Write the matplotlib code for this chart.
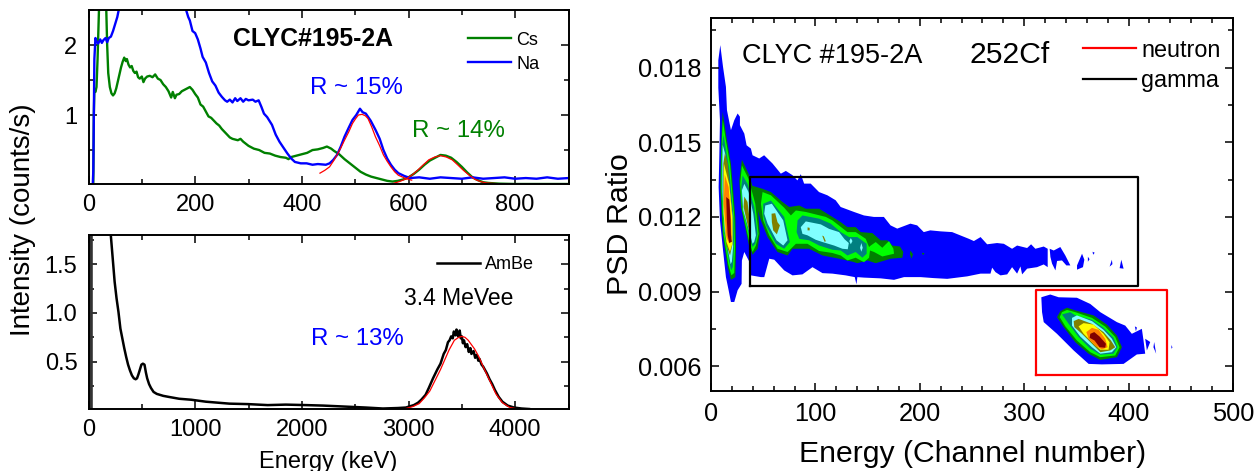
# CLYC spectra (left) and PSD map (right)
import numpy as np
import matplotlib
matplotlib.use('Agg')
import matplotlib.pyplot as plt
from matplotlib.ticker import MultipleLocator, FormatStrFormatter

plt.rcParams['font.family'] = ['Liberation Sans', 'DejaVu Sans']

# top left spectra, x in keV, y in counts/s
cs_x = [9,10,11,13,15,17,20,33,35,37,40,43,46,49,52,55,58,61,64,67,70,72,75,78,81,84,87,90,93,96,100,103,106,110,115,120,125,130,135,140,145,150,155,158,162,165,170,175,180,185,190,195,200,205,210,215,220,225,230,235,240,245,250,255,260,265,270,280,285,290,300,310,320,330,340,350,360,370,375,380,390,400,410,420,430,440,447,455,460,470,480,490,500,510,520,530,540,550,560,570,580,590,600,610,620,630,640,650,660,670,680,690,700,710,720,730,740,750,770,800,900]
cs_y = [0.02,1.0,1.35,1.33,1.4,1.8,2.6,2.6,2.0,1.6,1.4,1.31,1.28,1.31,1.38,1.48,1.58,1.68,1.76,1.82,1.77,1.80,1.72,1.68,1.70,1.63,1.60,1.62,1.54,1.52,1.55,1.47,1.52,1.55,1.56,1.54,1.58,1.52,1.50,1.44,1.40,1.34,1.25,1.33,1.24,1.29,1.30,1.34,1.36,1.38,1.40,1.36,1.30,1.25,1.15,1.12,1.05,0.98,0.96,0.92,0.88,0.85,0.80,0.76,0.72,0.68,0.66,0.64,0.66,0.62,0.56,0.52,0.50,0.46,0.45,0.42,0.40,0.39,0.37,0.40,0.42,0.44,0.46,0.50,0.51,0.53,0.55,0.52,0.49,0.44,0.37,0.31,0.25,0.19,0.15,0.12,0.10,0.08,0.06,0.05,0.06,0.08,0.11,0.16,0.22,0.29,0.35,0.39,0.43,0.42,0.39,0.33,0.26,0.18,0.11,0.07,0.04,0.03,0.02,0.015,0.015]
na_x = [8,9,10,11,13,15,18,22,25,28,32,35,38,42,46,50,54,58,120,183,187,190,195,200,205,210,214,220,226,232,238,244,250,256,260,265,270,275,279,285,290,295,300,308,313,319,324,329,335,344,351,358,365,373,380,387,398,409,420,430,445,452,459,466,473,480,488,495,502,509,514,520,529,538,546,553,560,567,574,581,592,603,620,640,660,680,700,720,740,760,780,800,820,840,860,880,900]
na_y = [0.01,0.2,1.0,1.8,2.1,2.05,2.02,2.08,2.03,2.07,2.1,2.04,2.1,2.12,2.2,2.3,2.4,2.55,3.5,2.5,2.4,2.35,2.2,2.17,2.08,1.95,1.83,1.75,1.6,1.48,1.42,1.32,1.26,1.21,1.19,1.22,1.18,1.24,1.20,1.24,1.19,1.23,1.21,1.22,1.19,1.21,1.12,1.02,0.97,0.86,0.72,0.62,0.54,0.45,0.38,0.33,0.31,0.31,0.29,0.30,0.29,0.31,0.36,0.43,0.55,0.69,0.82,0.93,1.0,1.09,1.04,1.02,0.92,0.79,0.66,0.5,0.38,0.29,0.22,0.17,0.13,0.10,0.11,0.09,0.11,0.10,0.09,0.11,0.09,0.10,0.11,0.09,0.10,0.09,0.11,0.09,0.10]
na_fit_x = [434,443,452,459,466,473,480,488,495,501,506,513,519,524,531,538,546,553,560,567,574,581,596,606]
na_fit_y = [0.17,0.21,0.26,0.34,0.43,0.53,0.64,0.76,0.88,0.95,1.0,1.01,0.99,0.95,0.83,0.69,0.56,0.43,0.34,0.26,0.19,0.14,0.09,0.07]
cs_fit_x = [570,583,596,606,617,628,638,649,660,671,682,692,703,714,725,735,746,768]
cs_fit_y = [0.02,0.05,0.09,0.14,0.21,0.29,0.36,0.40,0.42,0.40,0.36,0.29,0.21,0.14,0.08,0.05,0.03,0.02]

# bottom left AmBe spectrum
ambe_edge_x = [20, 20]
ambe_edge_y = [0.02, 3.0]
ambe_x = [20,150,209,227,245,263,281,299,317,335,353,371,389,407,425,442,455,468,482,496,510,525,538,550,568,586,610,640,700,748,850,964,1100,1320,1500,1680,1850,2040,2200,2400,2600,2760,2900,2975,3050,3090,3120,3160,3190,3230,3270,3300,3330,3350,3370,3385,3400,3415,3425,3440,3450,3465,3480,3490,3500,3510,3520,3535,3550,3565,3580,3590,3610,3625,3640,3655,3665,3685,3700,3715,3735,3760,3785,3810,3845,3880,3930,3990,4060,4130]
ambe_y = [3.0,3.0,1.8,1.56,1.32,1.15,1.01,0.84,0.74,0.64,0.55,0.47,0.41,0.36,0.33,0.32,0.33,0.37,0.42,0.47,0.48,0.47,0.39,0.33,0.27,0.23,0.19,0.17,0.15,0.14,0.12,0.11,0.09,0.07,0.065,0.055,0.06,0.055,0.05,0.04,0.03,0.02,0.025,0.03,0.055,0.08,0.11,0.16,0.23,0.33,0.42,0.48,0.58,0.62,0.70,0.72,0.76,0.74,0.81,0.77,0.83,0.76,0.82,0.74,0.76,0.69,0.72,0.65,0.68,0.60,0.64,0.58,0.61,0.54,0.57,0.51,0.53,0.47,0.45,0.42,0.38,0.32,0.27,0.21,0.14,0.09,0.05,0.03,0.02,0.015]
ambe_fit_x = [2975,3040,3100,3150,3200,3250,3300,3340,3380,3430,3470,3500,3530,3560,3620,3660,3700,3760,3820,3880,3950,4000]
ambe_fit_y = [0.02,0.04,0.07,0.13,0.20,0.31,0.42,0.52,0.62,0.72,0.75,0.76,0.75,0.72,0.63,0.55,0.45,0.31,0.17,0.08,0.03,0.02]

# PSD map outlines, channel number and PSD ratio x 1000
band_blue = [(8.9,18.91),(11.5,18.04),(14.3,17.23),(15.3,16.29),(19.1,15.49),(22.3,15.89),(25.5,16.16),(27.7,16.03),(27.7,15.69),(31.9,15.35),(34.1,14.88),(38.2,14.75),(39.8,14.48),(46.2,14.35),(50.9,14.48),(58.9,14.15),(66.9,13.74),(71.7,13.85),(78,13.68),(82.8,13.47),(86,13.72),(89.2,13.34),(95.5,13.34),(103.5,13.0),(111.5,12.87),(119.4,12.67),(124.2,12.4),(137,12.2),(146.5,12.06),(156,12.0),(165.6,12.0),(172,11.66),(178.4,11.53),(191,11.73),(197.5,11.66),(203.8,11.39),(210,11.46),(219.9,11.42),(231,11.39),(247,11.12),(251.8,11.03),(258.2,11.19),(264.5,10.9),(274,10.95),(280.5,10.92),(288.4,10.72),(293.2,10.85),(302.8,10.75),(306.6,10.9),(310.7,10.72),(318.7,10.81),(322.5,10.72),(322.5,9.98),(318.7,10.09),(312.3,9.98),(302.8,9.92),(298,9.69),(296.4,10.01),(293.2,9.72),(288.4,9.98),(283.7,9.69),(277.3,9.65),(272.5,9.78),(269.3,9.96),(267.7,9.72),(258.2,9.72),(245.4,9.61),(226.3,9.51),(213.5,9.54),(200.8,9.58),(184.9,9.58),(175.3,9.47),(162.5,9.53),(146.6,9.56),(140.2,9.58),(139.3,9.29),(137.7,9.58),(129,9.65),(116.3,9.72),(106.8,9.74),(97.2,9.98),(87.6,9.69),(78.1,9.65),(70.1,9.85),(60.6,10.28),(55.8,10.32),(51,9.58),(47.8,9.58),(38.2,9.65),(36.7,10.2),(31.9,10.59),(29.6,10.25),(29.3,9.31),(25.5,9.05),(22.3,8.58),(19.1,8.58),(16.9,9.05),(14.3,9.58),(11.2,10.79),(8.6,11.86),(7.3,13.2),(8,14.54),(8.6,15.88),(7,17.2),(7,18.3)]
blue_bits = [
    [(324.4,10.72),(328.3,10.65),(334.6,10.79),(339.4,10.45),(344.2,10.05),(340.4,10.05),(336.2,10.25),(331.5,10.23),(329.9,9.85),(326.7,10.12),(325.1,10.39)],
    [(355.4,10.52),(357.6,10.28),(356.3,9.98),(350.6,9.88),(350.6,10.05)],
    [(361,10.4),(362.6,10.3),(361,10.2)],
    [(365.5,10.6),(367.5,10.56),(366,10.48)],
    [(384,10.28),(384.5,10.1),(381.8,10)],
    [(393,10.28),(395.2,9.92),(391.4,9.94)],
    [(415.9,7.1),(420.7,6.97),(417.5,6.63)],
    [(424.5,6.97),(426.4,6.5),(423.8,6.76)],
    [(441,6.85),(442,6.75),(441,6.7)],
    [(406,7.6),(408,7.55),(407,7.4)],
]
lobe1_green = [(11.2,16.23),(14.3,15.34),(19.1,14.14),(23.3,12),(24,10.79),(23.3,9.58),(19.1,9.47),(16,9.98),(11.2,11.32),(8.9,13.2),(9.9,15.08)]
lobe1_lime = [(11.3,15.9),(13.8,15.2),(18.3,14.1),(22.3,12),(23,10.8),(22.3,9.75),(19.5,9.65),(16.5,10.1),(12,11.3),(9.7,13.2),(10.3,15)]
lobe1_teal = [(12,15.3),(17.5,13.9),(21.5,12),(22,10.8),(21,10),(19.3,9.85),(17,10.3),(12.7,11.4),(10.3,13.2),(10.8,14.9)]
lobe1_cyan = [(11.2,14.9),(13.8,14.5),(16.5,13.6),(20.8,12),(21.2,10.8),(20,10.2),(18.8,10.1),(17,10.5),(13.2,11.4),(11,13),(10.9,14.2)]
lobe1_olive = [(13.4,14.58),(16,14.14),(20.7,12),(20.7,10.92),(18.2,10.45),(14.3,10.92),(11.8,12.53),(11.8,14.14)]
lobe1_yellow = [(12.4,14.14),(17.5,13.3),(20.4,12),(20.4,10.92),(18.2,10.6),(14.8,11),(12,12.13)]
lobe1_orange = [(13.2,13.7),(16.9,13.2),(19.3,11.86),(19.8,11.19),(17.5,10.92),(14.8,11.19),(12.2,12.53)]
lobe1_darkred = [(14.6,12.8),(17.5,12.7),(18.8,11.86),(19.1,11.3),(20,11),(17.5,10.95),(16,11.26),(15.2,11.86)]
lobe2_green = [(29.6,14.3),(36.7,13.67),(44.6,12.53),(46.8,11.32),(44.6,10.72),(39.8,10.48),(36,10.92),(28.7,12.4),(27.1,13.47)]
lobe2_lime = [(29.6,14.07),(36,13.53),(42.4,12.53),(45.6,11.32),(43,10.85),(39.8,10.59),(36.6,11),(29.6,12.33),(28,13.33)]
lobe2_teal = [(30.3,13.67),(35,13.33),(41.4,12.4),(44.6,11.32),(42.4,10.92),(39.8,10.79),(36.7,11.26),(30.3,12.33),(29,13.2)]
lobe2_cyan = [(31.9,13.33),(36,13),(40.5,12.13),(43,11.26),(41.4,11),(39.8,10.92),(37.3,11.32),(30.9,12.26),(29.6,13.07)]
lobe2_olive = [(31.9,12.82),(35,12.6),(36.7,12),(38.2,11.46),(36.7,11.39),(34.1,11.86),(31.2,12.4)]
band_green = [(38.2,13.27),(49.4,13.13),(57.4,13),(68.5,12.6),(74.9,12.4),(84.5,12.46),(90.8,12.33),(103.6,12.33),(116.3,12),(124.3,11.79),(130.7,11.59),(138.6,11.59),(143.4,11.39),(154.6,11.35),(162.5,11.06),(168.9,11.06),(173.7,10.85),(181,10.81),(184.2,10.59),(183.3,10.36),(172.1,10.32),(157.8,10.14),(149.8,10.25),(140.2,10.14),(135.5,10.2),(122.7,10.32),(106.8,10.45),(94,10.72),(78.1,10.72),(73.3,10.45),(63.7,10.59),(54.2,11.19),(47.8,11.86),(39.8,12.93)]
band_lime = [(49.4,13),(57.4,12.87),(70.1,12.37),(76.5,12.06),(81.3,12.26),(90.8,12.2),(110,12),(116.3,11.86),(124.3,11.6),(130.7,11.39),(138.6,11.39),(148.2,11.12),(151.4,10.79),(153,10.85),(157.8,10.99),(164.1,10.76),(170.5,11.03),(174.7,10.72),(175.3,10.52),(164.1,10.41),(156.2,10.59),(152.3,10.65),(151.4,10.36),(146.6,10.18),(138.6,10.36),(130.7,10.25),(124.3,10.45),(116.3,10.55),(103.6,10.63),(92.4,10.92),(81.3,10.92),(76.5,10.72),(73.3,10.59),(63.7,10.72),(55.8,11.26),(50,11.86),(47.8,12.53)]
blob_a_teal = [(50,12.53),(57.4,12.66),(70.1,12),(75.5,10.99),(70.1,10.72),(62.1,10.92),(52.6,11.66),(50,12.06)]
blob_a_cyan = [(52,12.46),(58.3,12.53),(69.2,11.86),(73.3,11.06),(69.2,10.85),(62.8,11.06),(54.2,11.73),(51,12.13)]
blob_a_olive = [(58,12.13),(61.5,12.15),(63.7,11.79),(66,11.66),(63.1,11.3),(59.6,11.46),(58.3,11.79)]
blob_b_teal = [(82.9,11.86),(87.6,12.06),(103.6,11.93),(114.7,11.73),(124.3,11.39),(132.3,11.19),(140.2,11.19),(149.1,10.92),(149.1,10.52),(145,10.36),(138.6,10.59),(130.7,10.45),(124.3,10.65),(116.3,10.68),(103.6,10.85),(94,11.06),(84.5,11.12),(82,11.39)]
blob_b_cyan = [(86,11.59),(90.8,11.82),(105.2,11.7),(113.1,11.52),(122.7,11.39),(128,11.1),(132,10.95),(131,10.7),(125.9,10.72),(117.9,10.85),(106.8,10.99),(100.4,11.08),(92.4,11.26),(87.6,11.32)]
cyan_spots = [[(133.9,11.15),(135.5,11.03),(133.9,10.9),(132.5,11.03)], [(144,10.95),(145.3,10.76),(144,10.6),(142.8,10.76)]]
olive_spots = [[(92.5,11.58),(94.5,11.56),(94.5,11.46),(92.5,11.46)], [(106.5,11.25),(108,11.22),(110,11.02),(108.8,11.0)]]
green_dots = [[(191,10.65),(193.5,10.5),(192,10.32),(190.5,10.5)], [(202,10.56),(204.5,10.54),(203,10.46)]]

gamma_blue = [(316.4,8.77),(325,8.88),(333,8.77),(350.5,8.75),(363.3,8.5),(372.9,8.17),(388.8,7.77),(396.8,7.63),(403.1,7.3),(412.7,7.5),(414.3,7.03),(415.9,6.5),(407.9,6.47),(395.2,6.09),(374.4,6.07),(361.7,6.09),(347.4,6.63),(331.4,7.3),(318.7,7.77),(317.1,8.17)]
gamma_green = [(334.6,8.21),(341,8.35),(349,8.24),(366.5,8.04),(379.2,7.67),(388.8,7.23),(393.6,6.76),(388.8,6.36),(372.9,6.25),(361.7,6.5),(349,6.96),(337.8,7.57),(331.4,7.97)]
gamma_lime = [(336.2,8.17),(341,8.26),(349,8.17),(364.9,7.94),(377.6,7.59),(387.2,7.17),(391.3,6.76),(387.2,6.43),(372.9,6.36),(363.3,6.56),(350.5,7.03),(339.4,7.6),(334,7.97)]
gamma_teal = [(336.2,8.08),(344.2,8.17),(349,8.04),(364.9,7.86),(376,7.54),(385.6,7.14),(389.4,6.76),(385.6,6.5),(372.9,6.46),(363.3,6.7),(352.1,7.17),(342.6,7.7)]
gamma_cyan = [(345.8,7.94),(350.5,8.04),(364.9,7.81),(376,7.46),(384,7.1),(388.2,6.76),(384,6.56),(372.9,6.5),(364.9,6.76),(353.7,7.19),(345.8,7.63)]
gamma_olive = [(347.4,7.81),(352.1,7.9),(364.9,7.7),(376,7.37),(383.1,7.03),(387.2,6.76),(382.4,6.63),(372.9,6.56),(364.9,6.9),(355.3,7.3),(348,7.57)]
gamma_yellow = [(352.1,7.6),(356.9,7.73),(366.5,7.67),(376,7.3),(381.8,6.96),(380.8,6.66),(372.9,6.66),(364.9,6.96),(356.9,7.3)]
gamma_orange = [(359.5,7.37),(364.9,7.54),(371.3,7.46),(377.6,7.1),(379.9,6.76),(374.4,6.67),(368.1,6.83),(361.7,7.1)]
gamma_darkred = [(363.3,7.3),(367.1,7.37),(372.2,7.19),(378.3,6.9),(377.6,6.74),(372.2,6.76),(367.4,7.03),(362.7,7.14)]

neutron_x = [311, 436.6, 436.6, 311, 311]
neutron_y = [5.63, 5.63, 9.07, 9.07, 5.63]
gamma_x = [37, 408.9, 408.9, 37, 37]
gamma_y = [9.24, 9.24, 13.6, 13.6, 9.24]

W, H = 1256, 471
fig = plt.figure(figsize=(W / 100, H / 100), dpi=100)


def make_axes(left, right, top, bottom):
    return fig.add_axes([left / W, 1 - bottom / H, (right - left) / W, (bottom - top) / H])


def style(ax, size, major, minor, padx, pady):
    ax.tick_params(which='major', direction='in', top=True, right=True, length=major, width=1.1, labelsize=size)
    ax.tick_params(which='minor', direction='in', top=True, right=True, length=minor, width=1.1)
    ax.tick_params(axis='x', which='major', pad=padx)
    ax.tick_params(axis='y', which='major', pad=pady)
    for s in ax.spines.values():
        s.set_linewidth(1.4)


GREEN = '#008000'

# top left
ax1 = make_axes(88.5, 568.5, 10, 184)
ax1.plot(cs_x, cs_y, color=GREEN, lw=1.7, label='Cs')
ax1.plot(na_x, na_y, color='#0000ff', lw=1.7, label='Na')
ax1.plot(na_fit_x, na_fit_y, color='red', lw=0.9)
ax1.plot(cs_fit_x, cs_fit_y, color='red', lw=0.9)
ax1.set_xlim(0, 900)
ax1.set_ylim(0.015, 2.5)
ax1.set_xticks([0, 200, 400, 600, 800])
ax1.set_yticks([1, 2])
ax1.xaxis.set_minor_locator(MultipleLocator(100))
ax1.yaxis.set_minor_locator(MultipleLocator(0.5))
style(ax1, 17, 5.5, 3.5, 7, 8)
ax1.text(271, 2.09, 'CLYC#195-2A', fontsize=17.8, fontweight='bold', va='center')
ax1.text(416, 1.38, 'R ~ 15%', fontsize=17.3, color='#0000ff', va='center')
ax1.text(607, 0.77, 'R ~ 14%', fontsize=17.3, color=GREEN, va='center')
ax1.legend(loc='upper left', bbox_to_anchor=(0.79, 0.875), frameon=False, fontsize=13,
           handlelength=2.4, handletextpad=0.3, labelspacing=0.38, borderpad=0, borderaxespad=0)

# bottom left
ax2 = make_axes(88.5, 568.5, 235, 409)
ax2.plot(ambe_edge_x, ambe_edge_y, color='#333333', lw=2.6)
ax2.plot(ambe_x, ambe_y, color='black', lw=1.8, label='AmBe')
ax2.plot(ambe_fit_x, ambe_fit_y, color='red', lw=0.9)
ax2.set_xlim(0, 4500)
ax2.set_ylim(0.015, 1.8)
ax2.set_xticks([0, 1000, 2000, 3000, 4000])
ax2.set_yticks([0.5, 1.0, 1.5])
ax2.xaxis.set_minor_locator(MultipleLocator(500))
ax2.yaxis.set_minor_locator(MultipleLocator(0.25))
style(ax2, 17, 5.5, 3.5, 7, 8)
ax2.set_xlabel('Energy (keV)', fontsize=17, va='top')
ax2.xaxis.set_label_coords(0.499, -0.24)
ax2.text(2956, 1.15, '3.4 MeVee', fontsize=16.5, va='center')
ax2.text(2085, 0.73, 'R ~ 13%', fontsize=17.3, color='#0000ff', va='center')
ax2.legend(loc='upper left', bbox_to_anchor=(0.725, 0.88), frameon=False, fontsize=13,
           handlelength=2.4, handletextpad=0.3, borderpad=0, borderaxespad=0)
fig.text(23 / W, 1 - 220 / H, 'Intensity (counts/s)', rotation=90, fontsize=20, ha='center', va='center')

# right panel
ax3 = make_axes(711, 1233, 18, 391)
BLUE, LIME, TEAL, CYAN, OLIVE = '#0000ff', '#00ff00', '#008080', '#80ffff', '#808000'
YELLOW, ORANGE, DARKRED = '#ffff00', '#ff8000', '#800000'
layers = [(band_blue, BLUE), (gamma_blue, BLUE)]
layers += [(p, BLUE) for p in blue_bits]
layers += [(band_green, GREEN), (band_lime, LIME), (blob_a_teal, TEAL), (blob_a_cyan, CYAN), (blob_a_olive, OLIVE),
           (blob_b_teal, TEAL), (blob_b_cyan, CYAN)]
layers += [(p, CYAN) for p in cyan_spots]
layers += [(p, OLIVE) for p in olive_spots]
layers += [(p, GREEN) for p in green_dots]
layers += [(lobe2_green, GREEN), (lobe2_lime, LIME), (lobe2_teal, TEAL), (lobe2_cyan, CYAN), (lobe2_olive, OLIVE)]
layers += [(lobe1_green, GREEN), (lobe1_lime, LIME), (lobe1_teal, TEAL), (lobe1_cyan, CYAN), (lobe1_olive, OLIVE),
           (lobe1_yellow, YELLOW), (lobe1_orange, ORANGE), (lobe1_darkred, DARKRED)]
layers += [(gamma_green, GREEN), (gamma_lime, LIME), (gamma_teal, TEAL), (gamma_cyan, CYAN), (gamma_olive, OLIVE),
           (gamma_yellow, YELLOW), (gamma_orange, ORANGE), (gamma_darkred, DARKRED)]
for poly, col in layers:
    pts = np.array(poly)
    ax3.fill(pts[:, 0], pts[:, 1] * 1e-3, color=col, lw=0)

ax3.plot(neutron_x, np.array(neutron_y) * 1e-3, color='red', lw=1.6, label='neutron')
ax3.plot(gamma_x, np.array(gamma_y) * 1e-3, color='black', lw=1.6, label='gamma')
ax3.set_xlim(0, 500)
ax3.set_ylim(0.005, 0.02)
ax3.set_xticks([0, 100, 200, 300, 400, 500])
ax3.set_yticks([0.006, 0.009, 0.012, 0.015, 0.018])
ax3.yaxis.set_major_formatter(FormatStrFormatter('%.3f'))
ax3.xaxis.set_minor_locator(MultipleLocator(20))
ax3.yaxis.set_minor_locator(MultipleLocator(0.0015))
style(ax3, 18.3, 6, 3.8, 8, 7)
ax3.set_xlabel('Energy (Channel number)', fontsize=21.7, va='top')
ax3.xaxis.set_label_coords(0.501, -0.132)
ax3.set_ylabel('PSD Ratio', fontsize=21.9, va='bottom')
ax3.yaxis.set_label_coords(-0.148, 0.448)
ax3.text(29.6, 0.01849, 'CLYC #195-2A', fontsize=19.5, va='center')
ax3.text(247.6, 0.01853, '252Cf', fontsize=21.7, va='center')
ax3.legend(loc='upper left', bbox_to_anchor=(0.712, 0.945), frameon=False, fontsize=16.8,
           handlelength=2.27, handletextpad=0.25, labelspacing=0.33, borderpad=0, borderaxespad=0)

plt.savefig('out.png', dpi=100)
